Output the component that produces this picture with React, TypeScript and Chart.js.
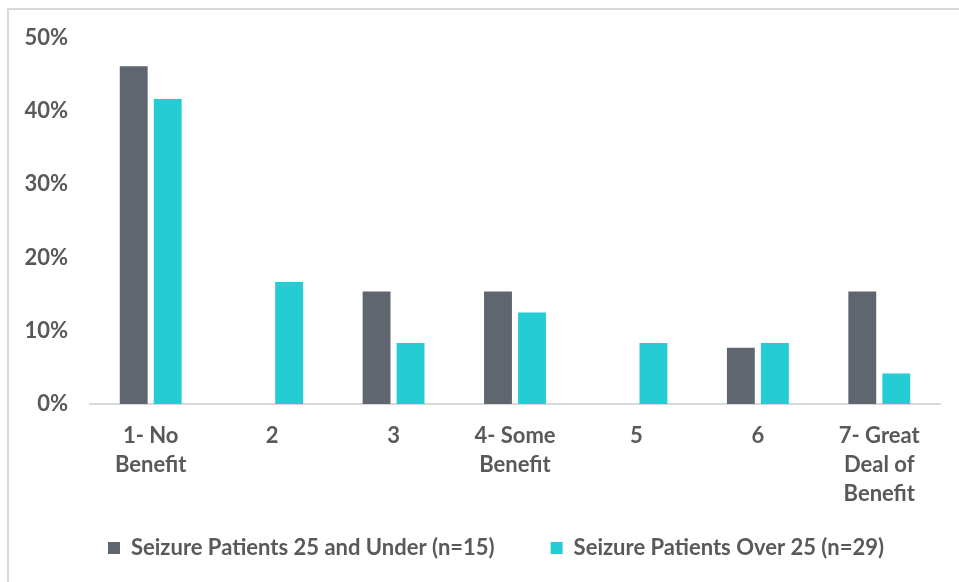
import React, { useEffect, useRef } from "react";
import { Chart, registerables } from "chart.js";

Chart.register(...registerables);

const categories: (string | string[])[] = [
  ["1- No", "Benefit"],
  "2",
  "3",
  ["4- Some", "Benefit"],
  "5",
  "6",
  ["7- Great", "Deal of", "Benefit"],
];
const under25 = [0.4615, 0, 0.1538, 0.1538, 0, 0.0769, 0.1538];
const over25 = [0.4167, 0.1667, 0.0833, 0.125, 0.0833, 0.0833, 0.0417];
const seriesNames = [
  "Seizure Patients 25 and Under (n=15)",
  "Seizure Patients Over 25 (n=29)",
];
const yTicks = [0, 0.1, 0.2, 0.3, 0.4, 0.5];

const FONT = "Lato, 'Open Sans', sans-serif";
const TEXT = "#595959";
const FS = 22;
const LEGEND_PAD = 56;

// places the legend row: first marker at x=108, text centred on y=548
const legendPlace = {
  id: "legendPlace",
  afterLayout(chart: any) {
    const lg = chart.legend;
    if (!lg) return;
    const w = lg.right - lg.left;
    lg.left = 108 - LEGEND_PAD;
    lg.right = lg.left + w;
    lg.top = 548 - LEGEND_PAD - FS / 2;
    lg.bottom = lg.top + LEGEND_PAD + FS + 12;
    lg.height = lg.bottom - lg.top;
  },
};

export default function App() {
  const ref = useRef<HTMLCanvasElement>(null);
  useEffect(() => {
    if (!ref.current) return;
    const chart = new Chart(ref.current, {
      type: "bar",
      data: {
        labels: categories,
        datasets: [
          { label: seriesNames[0], data: under25, backgroundColor: "#5f6670" },
          { label: seriesNames[1], data: over25, backgroundColor: "#24ccd3" },
        ],
      },
      plugins: [legendPlace],
      options: {
        animation: false,
        responsive: false,
        maintainAspectRatio: false,
        layout: { padding: { left: 0, right: 19, top: 38, bottom: 8 } },
        datasets: { bar: { categoryPercentage: 0.56, barPercentage: 0.82 } } as any,
        scales: {
          x: {
            grid: { display: false, drawTicks: false },
            border: { display: true, color: "#d9d9d9", width: 2 },
            ticks: {
              color: TEXT,
              font: { family: FONT, size: FS, weight: "bold", lineHeight: 29 / FS },
              padding: 17.5,
              maxRotation: 0,
              autoSkip: false,
            },
            afterFit: (s: any) => {
              s.height = 110;
            },
          },
          y: {
            min: 0,
            max: 0.5,
            afterBuildTicks: (s: any) => {
              s.ticks = yTicks.map((v) => ({ value: v }));
            },
            grid: { display: false, drawTicks: false },
            border: { display: false },
            ticks: {
              color: TEXT,
              font: { family: FONT, size: FS, weight: "bold" },
              padding: 22,
              callback: (v: any) => Math.round(Number(v) * 100) + "%",
            },
            afterFit: (s: any) => {
              s.width = 90;
            },
          },
        },
        plugins: {
          legend: {
            position: "bottom",
            align: "start",
            maxHeight: 60,
            labels: {
              color: TEXT,
              font: { family: FONT, size: FS, weight: "bold" },
              boxWidth: 12,
              boxHeight: 12,
              padding: LEGEND_PAD,
            },
          },
          tooltip: { enabled: false },
        },
      },
    });
    return () => chart.destroy();
  }, []);
  return (
    <div>
      <div
        style={{
          position: "fixed",
          left: 7,
          top: 8,
          width: 960,
          height: 580,
          borderLeft: "2px solid #d9d9d9",
          borderTop: "2px solid #d9d9d9",
          background: "#fff",
        }}
      />
      <canvas
        ref={ref}
        width={959}
        height={582}
        style={{ position: "fixed", left: 0, top: 0, width: 959, height: 582 }}
      />
    </div>
  );
}
